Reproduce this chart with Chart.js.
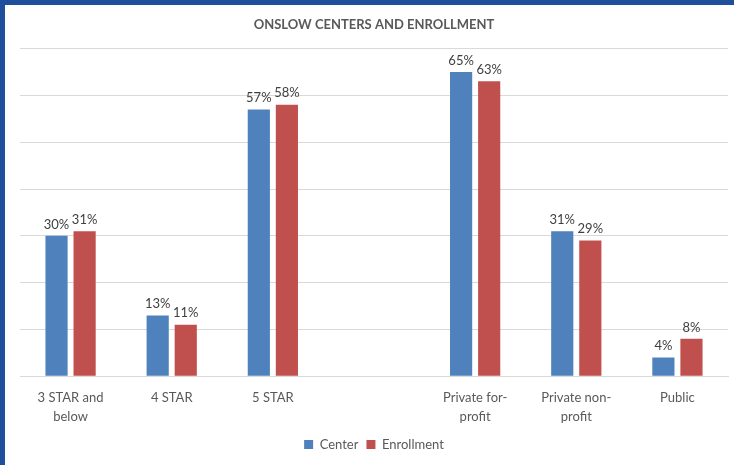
<!DOCTYPE html>
<html lang="en">
  <head>
    <meta charset="UTF-8" />
    <title>Onslow Centers and Enrollment</title>
    <script src="https://cdn.jsdelivr.net/npm/chart.js"></script>
    <style>
      html, body { margin: 0; padding: 0; background: #ffffff; }
      #frame {
        position: relative;
        width: 729px;
        height: 460px;
        border-left: 5px solid #1f4e9a;
        border-top: 5px solid #1f4e9a;
      }
    </style>
  </head>
  <body>
    <div id="frame">
      <canvas id="onslowChart" width="729" height="460"></canvas>
    </div>

    <script>
      const categories = [
        ["3 STAR and", "below"],
        "4 STAR",
        "5 STAR",
        "",
        ["Private for-", "profit"],
        ["Private non-", "profit"],
        "Public",
      ];
      const centerValues = [30, 13, 57, null, 65, 31, 4];
      const enrollmentValues = [31, 11, 58, null, 63, 29, 8];
      const yTicks = [0, 10, 20, 30, 40, 50, 60, 70];

      // draws the "NN%" labels above each bar
      const barLabels = {
        id: "barLabels",
        afterDatasetsDraw(chart) {
          const c = chart.ctx;
          c.save();
          c.font = "13px Lato, 'Open Sans', sans-serif";
          c.fillStyle = "#404040";
          c.textAlign = "center";
          c.textBaseline = "bottom";
          chart.data.datasets.forEach((ds, i) => {
            chart.getDatasetMeta(i).data.forEach((bar, j) => {
              if (ds.data[j] == null) return;
              c.fillText(ds.data[j] + "%", bar.x, bar.y - 5);
            });
          });
          c.restore();
        },
      };

      const ctx = document.getElementById("onslowChart").getContext("2d");
      new Chart(ctx, {
        type: "bar",
        data: {
          labels: categories,
          datasets: [
            {
              label: "Center",
              data: centerValues,
              backgroundColor: "#4f81bd",
              barPercentage: 0.79,
              categoryPercentage: 0.555,
            },
            {
              label: "Enrollment",
              data: enrollmentValues,
              backgroundColor: "#c0504d",
              barPercentage: 0.79,
              categoryPercentage: 0.555,
            },
          ],
        },
        plugins: [barLabels],
        options: {
          responsive: false,
          animation: false,
          layout: { padding: { left: 15, right: 6, top: 8, bottom: 4 } },
          plugins: {
            title: {
              display: true,
              text: "ONSLOW CENTERS AND ENROLLMENT",
              color: "#595959",
              font: { family: "Lato, 'Open Sans', sans-serif", size: 13, weight: "bold" },
              padding: { top: 4, bottom: 16 },
            },
            legend: {
              position: "bottom",
              labels: {
                color: "#595959",
                font: { family: "Lato, 'Open Sans', sans-serif", size: 13 },
                boxWidth: 9,
                boxHeight: 9,
                padding: 8,
              },
            },
            tooltip: { enabled: false },
          },
          scales: {
            x: {
              grid: { display: false },
              border: { color: "#d9d9d9" },
              ticks: {
                color: "#595959",
                font: { family: "Lato, 'Open Sans', sans-serif", size: 13, lineHeight: 1.45 },
                maxRotation: 0,
                padding: 4,
              },
            },
            y: {
              min: 0,
              max: 70,
              afterBuildTicks(axis) {
                axis.ticks = yTicks.map((v) => ({ value: v }));
              },
              ticks: { display: false },
              grid: { color: "#d9d9d9", drawTicks: false },
              border: { display: false },
            },
          },
        },
      });
    </script>
  </body>
</html>
